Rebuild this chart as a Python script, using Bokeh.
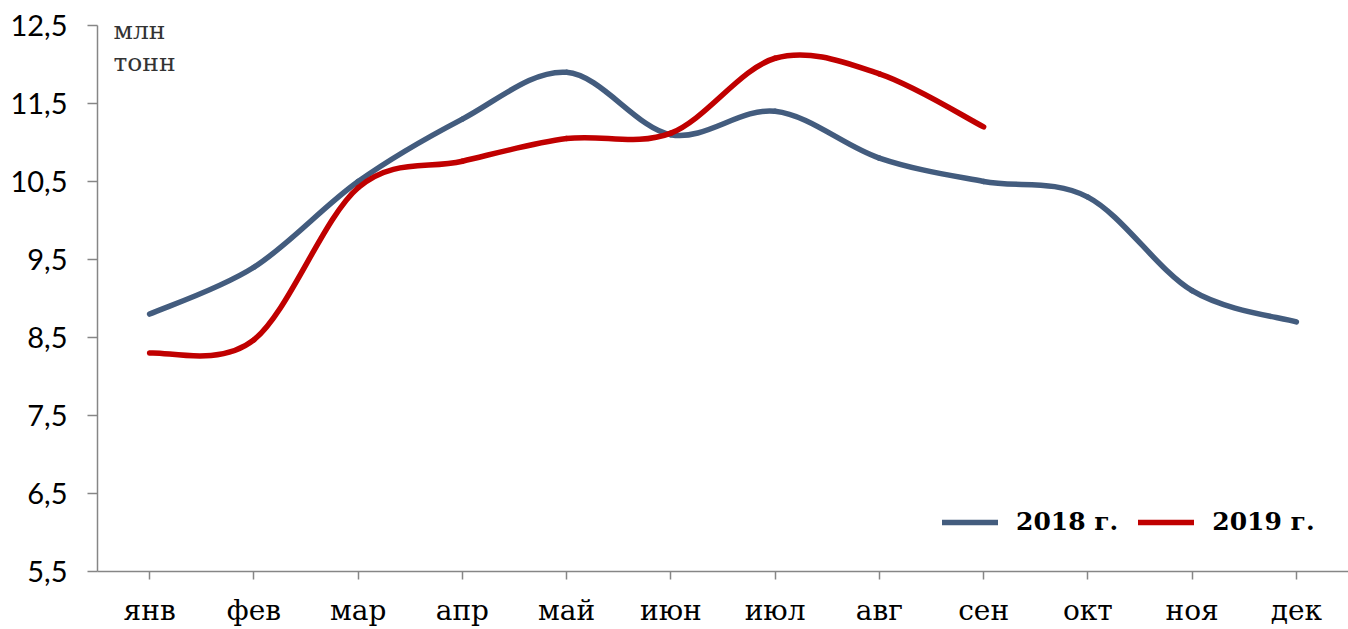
import numpy as np
from bokeh.plotting import figure
from bokeh.models import ColumnDataSource, FixedTicker, Range1d, Legend, LegendItem, Label
from bokeh.embed import file_html
from bokeh.resources import INLINE

months = ["янв", "фев", "мар", "апр", "май", "июн", "июл", "авг", "сен", "окт", "ноя", "дек"]
y2018 = [8.8, 9.4, 10.5, 11.3, 11.9, 11.1, 11.4, 10.8, 10.5, 10.3, 9.1, 8.7]
y2019 = [8.3, 8.47, 10.42, 10.76, 11.05, 11.12, 12.08, 11.88, 11.2]
y_ticks = [5.5, 6.5, 7.5, 8.5, 9.5, 10.5, 11.5, 12.5]
y_tick_labels = ["5,5", "6,5", "7,5", "8,5", "9,5", "10,5", "11,5", "12,5"]
series_names = ["2018 г.", "2019 г."]
colors = ["#435C7E", "#C00000"]
unit_lines = ["млн", "тонн"]


def smooth_segments(ys):
    xs = np.arange(len(ys), dtype=float)
    ys = np.asarray(ys, dtype=float)
    n = len(ys)
    d = dict(x0=[], y0=[], x1=[], y1=[], cx0=[], cy0=[], cx1=[], cy1=[])
    for i in range(n - 1):
        im1 = max(i - 1, 0)
        ip2 = min(i + 2, n - 1)
        d["x0"].append(xs[i]); d["y0"].append(ys[i])
        d["x1"].append(xs[i + 1]); d["y1"].append(ys[i + 1])
        d["cx0"].append(xs[i] + (xs[i + 1] - xs[im1]) / 6)
        d["cy0"].append(ys[i] + (ys[i + 1] - ys[im1]) / 6)
        d["cx1"].append(xs[i + 1] - (xs[ip2] - xs[i]) / 6)
        d["cy1"].append(ys[i + 1] - (ys[ip2] - ys[i]) / 6)
    return ColumnDataSource(d)


p = figure(width=1348, height=629, output_backend="svg", toolbar_location=None,
           x_range=Range1d(-0.5, 11.5), y_range=Range1d(5.5, 12.5),
           min_border_left=97, min_border_top=25, min_border_bottom=58, min_border_right=0)
p.outline_line_color = None
p.grid.visible = False
p.background_fill_color = "white"
p.border_fill_color = "white"

for ys, col in zip([y2018, y2019], colors):
    src = smooth_segments(ys)
    p.bezier(x0="x0", y0="y0", x1="x1", y1="y1", cx0="cx0", cy0="cy0", cx1="cx1", cy1="cy1",
             source=src, line_color=col, line_width=5.5, line_cap="round")

# legend via placeholder line renderers (no visible data)
items = []
for name, col in zip(series_names, colors):
    r = p.line(x=[np.nan, np.nan], y=[np.nan, np.nan], line_color=col, line_width=5.5, line_cap="round")
    items.append(LegendItem(label=name, renderers=[r]))
legend = Legend(items=items, orientation="horizontal", location=(845, 35),
                label_text_font="DejaVu Serif", label_text_font_style="bold",
                label_text_font_size="25px", label_text_color="#000000",
                glyph_width=56, glyph_height=24, spacing=20, label_standoff=18,
                border_line_alpha=0, background_fill_alpha=0, padding=0, margin=0)
p.add_layout(legend)

xa = p.xaxis[0]
xa.ticker = FixedTicker(ticks=list(range(len(months))))
xa.major_label_overrides = {i: m for i, m in enumerate(months)}
xa.major_label_text_font = "DejaVu Serif"
xa.major_label_text_font_size = "28px"
xa.major_label_text_color = "#000000"
xa.axis_line_color = "#868686"
xa.axis_line_width = 1.5
xa.major_tick_line_color = "#868686"
xa.major_tick_line_width = 1.5
xa.major_tick_out = 8
xa.major_tick_in = 0
xa.minor_tick_line_color = None
xa.major_label_standoff = 14

ya = p.yaxis[0]
ya.ticker = FixedTicker(ticks=y_ticks)
ya.major_label_overrides = {t: l for t, l in zip(y_ticks, y_tick_labels)}
ya.major_label_text_font = "Lato"
ya.major_label_text_font_size = "29px"
ya.major_label_text_color = "#000000"
ya.axis_line_color = "#868686"
ya.axis_line_width = 1.5
ya.major_tick_line_color = "#868686"
ya.major_tick_line_width = 1.5
ya.major_tick_out = 10
ya.major_tick_in = 0
ya.minor_tick_line_color = None
ya.major_label_standoff = 20

for txt, yv in zip(unit_lines, [12.43, 12.02]):
    p.add_layout(Label(x=-0.347, y=yv, text=txt, text_font="DejaVu Serif",
                       text_font_size="25px", text_color="#333333",
                       text_baseline="alphabetic"))

open("out.html", "w").write(file_html(p, INLINE))
